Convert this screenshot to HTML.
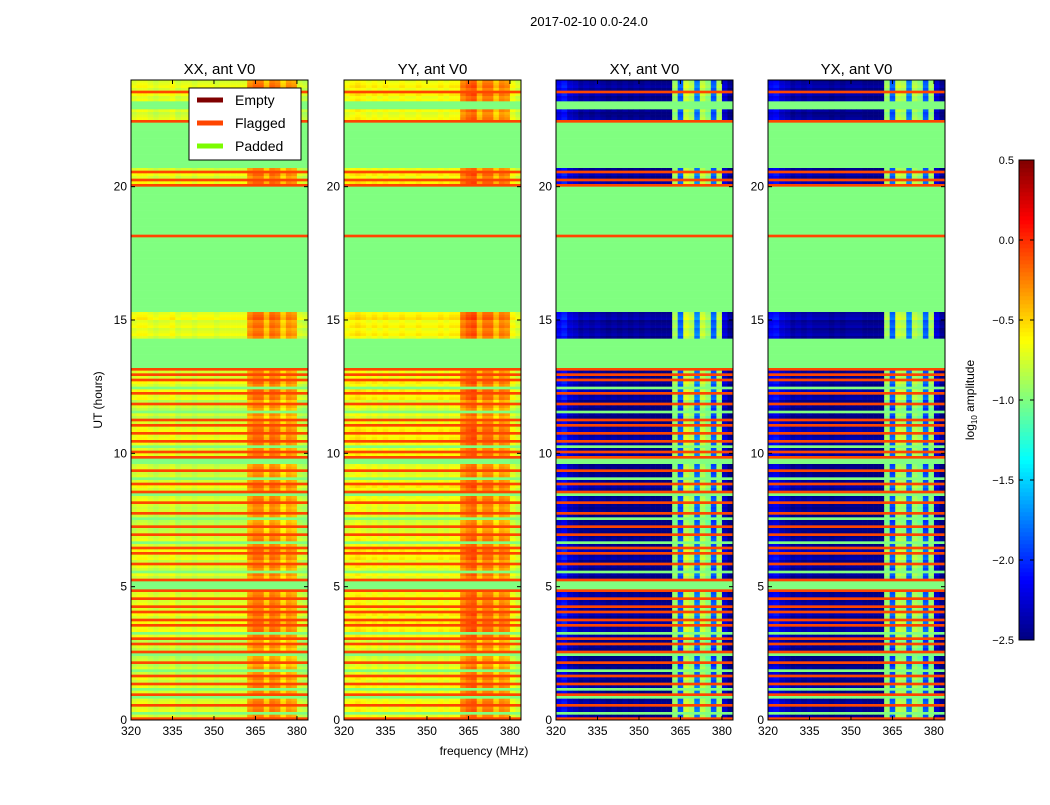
<!DOCTYPE html>
<html><head><meta charset="utf-8"><style>
body{margin:0;background:#fff;font-family:"Liberation Sans",sans-serif;}
svg text{font-family:"Liberation Sans",sans-serif;}
</style></head><body>
<svg id="fig" width="1050" height="800" viewBox="0 0 1050 800">
<rect width="1050" height="800" fill="#fff"/>
<text x="589" y="26" font-size="13" text-anchor="middle">2017-02-10 0.0-24.0</text>
<text x="484" y="755" font-size="12" text-anchor="middle">frequency (MHz)</text>
<text transform="translate(102,400) rotate(-90)" font-size="12" text-anchor="middle">UT (hours)</text>
<text transform="translate(974,400) rotate(-90)" font-size="12" text-anchor="middle">log<tspan font-size="8" dy="3">10</tspan><tspan dy="-3"> amplitude</tspan></text>
<g id="panels"></g>
<g id="cbar"></g>
</svg>
<script>
// ---- data ----
const panelTitles = ["XX, ant V0","YY, ant V0","XY, ant V0","YX, ant V0"];
const xTicks = [320,335,350,365,380];
const yTicks = [0,5,10,15,20];
const cbTicks = [0.5,0.0,-0.5,-1.0,-1.5,-2.0,-2.5];
const cbLabels = ["0.5","0.0","\u22120.5","\u22121.0","\u22121.5","\u22122.0","\u22122.5"];
// row types from 24h (top) down to 0h, 0.1h each: D=data, F=flagged, P=padded
const rowTypes = ("DDDDFDDDPP"+"PDDDDFPPPP"+"PPPPPPPPPP"+"PPPDFDDFDF"+"PPPPPPPPPP"+"PPPPPPPPFP"+
 "PPPPPPPPPP"+"PPPPPPPPPP"+"PPPPPPPDDD"+"DDDDDDDPPP"+"PPPPPPPPFD"+
 "FDFDDPDFDD"+"DFDDPDDFDF"+"DDFDDFDPDF"+"DFPPDDFDDP"+"DFDDFPDDFD"+"DDFDPDDFDD"+
 "FDDPDFDFDD"+"DFDDPDDFPP"+"PFDDFDDFDF"+"DDFDFDDPDF"+"DFDDFPDDFD"+"DPDFDDFDPD"+"FPDDFDDPDF").split("");
// per-hour brightness offset (hour 23 .. 0)
const hourOffset = [0.05,0.0,0,0.05,0,0,0,0,0.1,0.05,0,0.05,-0.05,0.05,0,0.05,-0.05,0.05,0,0.05,0.05,-0.05,0,0.0];
// column profiles, 2 MHz channels from 320 to 384
const colXX = [-0.75,-0.7,-0.7,-0.75,-0.8,-0.75,-0.75,-0.7,-0.8,-0.75,-0.75,-0.8,-0.75,-0.75,-0.75,-0.8,-0.75,-0.75,-0.75,-0.75,-0.75,-0.35,-0.25,-0.25,-0.5,-0.25,-0.3,-0.55,-0.35,-0.4,-0.8,-0.85];
const colYY = [-0.7,-0.65,-0.6,-0.65,-0.7,-0.65,-0.7,-0.65,-0.7,-0.7,-0.65,-0.7,-0.7,-0.65,-0.7,-0.7,-0.7,-0.65,-0.7,-0.65,-0.65,-0.3,-0.2,-0.15,-0.45,-0.25,-0.25,-0.5,-0.3,-0.35,-0.7,-0.8];
const colXY = [-2.2,-2.1,-2.3,-2.35,-2.45,-2.4,-2.45,-2.4,-2.45,-2.5,-2.45,-2.5,-2.45,-2.5,-2.45,-2.5,-2.45,-2.5,-2.5,-2.5,-2.5,-0.95,-1.9,-0.8,-0.9,-1.8,-0.85,-1.0,-1.9,-0.9,-2.3,-2.5];
const colYX = [-2.2,-2.15,-2.3,-2.35,-2.45,-2.4,-2.45,-2.4,-2.45,-2.45,-2.45,-2.5,-2.45,-2.5,-2.45,-2.45,-2.45,-2.5,-2.5,-2.5,-2.5,-0.95,-1.9,-0.85,-0.9,-1.8,-0.9,-1.0,-1.9,-0.95,-2.3,-2.5];
const colProfiles = [colXX,colYY,colXY,colYX];
const legendLabels = ["Empty","Flagged","Padded"];
const legendColors = ["#800000","#ff4500","#7cfc00"];

// ---- layout ----
const panelX = [131,344,556,768], PW = 177, PT = 80, PB = 720;
const fMin = 320, fMax = 384, tMin = 0, tMax = 24;
const PAD = "#80ff80", FLAG = "#ff4500";
const NS = "http://www.w3.org/2000/svg";
function xs(f, p){ return panelX[p] + (f - fMin) / (fMax - fMin) * PW; }
function ys(t){ return PB - (t - tMin) / (tMax - tMin) * (PB - PT); }
function jet(v){ // v in [-2.5,0.5]
  let x = Math.max(0, Math.min(1, (v + 2.5) / 3));
  const r = Math.max(0, Math.min(1, Math.min(4*x-1.5, -4*x+4.5)));
  const g = Math.max(0, Math.min(1, Math.min(4*x-0.5, -4*x+3.5)));
  const b = Math.max(0, Math.min(1, Math.min(4*x+0.5, -4*x+2.5)));
  return "rgb(" + Math.round(r*255) + "," + Math.round(g*255) + "," + Math.round(b*255) + ")";
}
function mk(tag, attrs, parent){
  const e = document.createElementNS(NS, tag);
  for (const k in attrs) e.setAttribute(k, attrs[k]);
  parent.appendChild(e); return e;
}
const panelsG = document.getElementById("panels");
const nRows = rowTypes.length, dt = (tMax - tMin) / nRows;
for (let p = 0; p < 4; p++){
  const g = mk("g", {}, panelsG);
  
  
  const cols = colProfiles[p], df = (fMax - fMin) / cols.length;
  for (let r = 0; r < nRows; r++){
    const tTop = tMax - r*dt, tBot = tTop - dt;
    const y0 = ys(tTop), h = ys(tBot) - y0 + 0.3;
    const type = rowTypes[r];
    if (type !== "D"){
      const rc = mk("rect", {x: panelX[p], y: y0, width: PW, height: h, fill: type === "P" ? PAD : FLAG}, g);
      
      
    } else {
      const off = hourOffset[Math.floor(r / 10)] + ((r % 3) - 1) * 0.05;
      for (let c = 0; c < cols.length; c++){
        const x0 = xs(fMin + c*df, p), x1 = xs(fMin + (c+1)*df, p);
        const rc = mk("rect", {x: x0, y: y0, width: x1 - x0 + 0.3, height: h, fill: jet(cols[c] + off)}, g);
        
        
      }
    }
  }
  const fr = mk("rect", {x: panelX[p], y: PT, width: PW, height: PB-PT, fill: "none", stroke: "#000", "stroke-width": 1}, g);
  
  
  const tt = mk("text", {x: panelX[p] + PW/2, y: 74, "font-size": 15, "text-anchor": "middle"}, g);
  tt.textContent = panelTitles[p];
  
  
  for (const f of xTicks){
    const x = xs(f, p);
    mk("line", {x1: x, x2: x, y1: PB, y2: PB-4, stroke: "#000"}, g);
    mk("line", {x1: x, x2: x, y1: PT, y2: PT+4, stroke: "#000"}, g);
    const t = mk("text", {x: x, y: PB+15, "font-size": 12, "text-anchor": "middle"}, g);
    t.textContent = f;
    
    
  }
  for (const v of yTicks){
    const y = ys(v);
    mk("line", {x1: panelX[p], x2: panelX[p]+4, y1: y, y2: y, stroke: "#000"}, g);
    mk("line", {x1: panelX[p]+PW, x2: panelX[p]+PW-4, y1: y, y2: y, stroke: "#000"}, g);
    const t = mk("text", {x: panelX[p]-4, y: y+4, "font-size": 12, "text-anchor": "end"}, g);
    t.textContent = v;
    
    
  }
}
// legend
const lg = mk("g", {}, panelsG);


mk("rect", {x: 189, y: 88, width: 112, height: 72, fill: "#fff", stroke: "#000"}, lg);
for (let i = 0; i < legendLabels.length; i++){
  const y = 100 + i*23;
  mk("line", {x1: 197, x2: 223, y1: y, y2: y, stroke: legendColors[i], "stroke-width": 5}, lg);
  const t = mk("text", {x: 235, y: y+5, "font-size": 14}, lg);
  t.textContent = legendLabels[i];
  
  
}
// colorbar
const cb = document.getElementById("cbar");


const cbX = 1019, cbW = 15, cbT = 160, cbB = 640;
function cys(v){ return cbB - (v + 2.5) / 3 * (cbB - cbT); }
for (let i = 0; i < 120; i++){
  const v0 = -2.5 + i*3/120, v1 = v0 + 3/120;
  mk("rect", {x: cbX, y: cys(v1), width: cbW, height: cys(v0)-cys(v1)+0.3, fill: jet(v0 + 1.5/120)}, cb);
}
mk("rect", {x: cbX, y: cbT, width: cbW, height: cbB-cbT, fill: "none", stroke: "#000"}, cb);
for (let i = 0; i < cbTicks.length; i++){
  const y = cys(cbTicks[i]);
  mk("line", {x1: cbX, x2: cbX+4, y1: y, y2: y, stroke: "#000"}, cb);
  mk("line", {x1: cbX+cbW, x2: cbX+cbW-4, y1: y, y2: y, stroke: "#000"}, cb);
  const t = mk("text", {x: cbX-5, y: y+4, "font-size": 11, "text-anchor": "end"}, cb);
  t.textContent = cbLabels[i];
  
  
}
</script>
</body></html>
